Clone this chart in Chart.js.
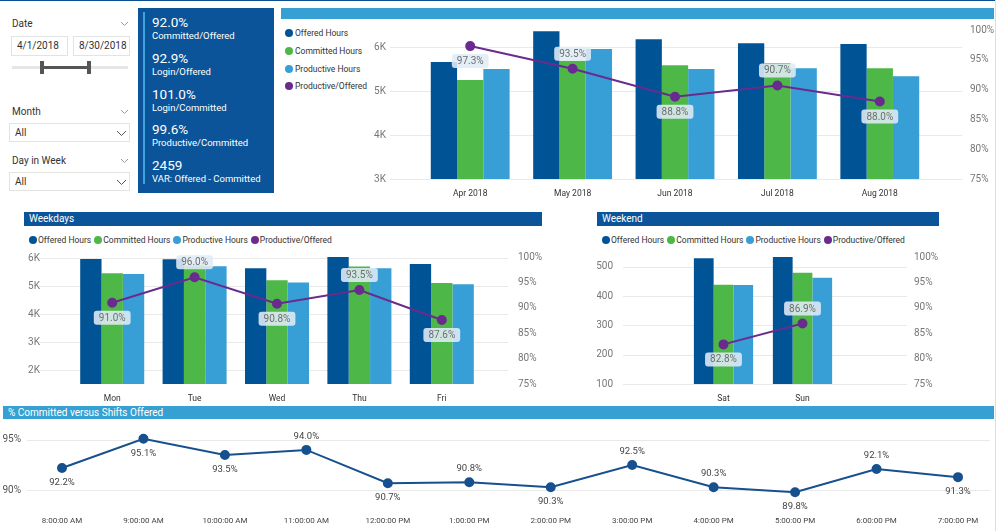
<!DOCTYPE html>
<html><head><meta charset="utf-8">
<script src="https://cdn.jsdelivr.net/npm/chart.js@4"></script>
<style>
body{margin:0;width:999px;height:531px;overflow:hidden;background:#fff;font-family:"Segoe UI",Roboto,"Open Sans",sans-serif;position:relative;color:#333}
.abs{position:absolute}
.lbl{font-size:10px;color:#333;line-height:12px}
.box{border:1px solid #e3e3e3;background:#fff;box-sizing:border-box;font-size:10px;color:#333;line-height:18px}
.hdr{color:#fff;font-size:10px;line-height:14px;padding-left:5px;box-sizing:border-box}
.leg{display:flex;align-items:center;font-size:8.5px;color:#333;white-space:nowrap}
.leg .it{display:flex;align-items:center;margin-right:3px}
.leg .dot{width:8px;height:8px;border-radius:50%;margin-right:1px}
.vleg .it{position:absolute;display:flex;align-items:center;font-size:8.5px;white-space:nowrap;color:#333}
.vleg .dot{width:8px;height:8px;border-radius:50%;margin-right:2px}
.kv{position:absolute;left:152px;color:#fff;font-size:13.5px;line-height:16px}
.kl{position:absolute;left:152px;color:#fff;font-size:9.5px;line-height:12px}
</style></head>
<body>
<!-- frame -->
<div class="abs" style="left:0;top:0;width:995px;height:1px;background:#0b4f8f"></div>
<div class="abs" style="left:995px;top:0;width:1px;height:531px;background:#ddd"></div>

<!-- slicers -->
<div class="abs lbl" style="left:12px;top:18px">Date</div>
<svg class="abs" style="left:120px;top:21px" width="9" height="6"><polyline points="1,1 4.5,4.5 8,1" fill="none" stroke="#999" stroke-width="1"/></svg>
<div class="abs box" style="left:11px;top:36px;width:57px;height:20px;padding-left:5px">4/1/2018</div>
<div class="abs box" style="left:73px;top:36px;width:57px;height:20px;padding-left:5px">8/30/2018</div>
<div class="abs" style="left:12px;top:66px;width:116px;height:3px;background:#e6e6e6"></div>
<div class="abs" style="left:42px;top:66px;width:47px;height:3px;background:#555"></div>
<div class="abs" style="left:40px;top:61px;width:4px;height:13px;background:#555"></div>
<div class="abs" style="left:87px;top:61px;width:4px;height:13px;background:#555"></div>

<div class="abs lbl" style="left:12px;top:106px">Month</div>
<svg class="abs" style="left:120px;top:109px" width="9" height="6"><polyline points="1,1 4.5,4.5 8,1" fill="none" stroke="#999" stroke-width="1"/></svg>
<div class="abs box" style="left:9px;top:123px;width:121px;height:19px;padding-left:5px">All</div>
<svg class="abs" style="left:116px;top:130px" width="11" height="7"><polyline points="1,1 5.5,5.5 10,1" fill="none" stroke="#555" stroke-width="1"/></svg>

<div class="abs lbl" style="left:12px;top:155px">Day in Week</div>
<svg class="abs" style="left:120px;top:158px" width="9" height="6"><polyline points="1,1 4.5,4.5 8,1" fill="none" stroke="#999" stroke-width="1"/></svg>
<div class="abs box" style="left:9px;top:172px;width:121px;height:19px;padding-left:5px">All</div>
<svg class="abs" style="left:116px;top:179px" width="11" height="7"><polyline points="1,1 5.5,5.5 10,1" fill="none" stroke="#555" stroke-width="1"/></svg>

<!-- KPI card -->
<div id="kpi" class="abs" style="left:138px;top:8px;width:136px;height:185px;background:#0b5499"></div>
<div class="abs" style="left:143px;top:12px;width:2px;height:172px;background:#3ea3dc"></div>
<div id="kpiText"></div>

<!-- top chart -->
<div class="abs" style="left:281px;top:8px;width:713px;height:11px;background:#36a0d3"></div>
<div id="topLegend" class="vleg"></div>
<canvas id="cTop" class="abs" style="left:370px;top:22px" width="625" height="180"></canvas>

<!-- weekdays -->
<div class="abs hdr" style="left:24px;top:212px;width:518px;height:14px;background:#0b5499">Weekdays</div>
<div id="wdLegend" class="abs leg" style="left:29px;top:234px;height:12px"></div>
<canvas id="cWd" class="abs" style="left:24px;top:248px" width="520" height="155"></canvas>

<!-- weekend -->
<div class="abs hdr" style="left:597px;top:212px;width:342px;height:14px;background:#0b5499">Weekend</div>
<div id="weLegend" class="abs leg" style="left:602px;top:234px;height:12px"></div>
<canvas id="cWe" class="abs" style="left:597px;top:248px" width="350" height="155"></canvas>

<!-- hourly -->
<div class="abs hdr" style="left:3px;top:406px;width:991px;height:13px;line-height:13px;background:#36a0d3">% Committed versus Shifts Offered</div>
<canvas id="cHr" class="abs" style="left:0px;top:420px" width="999" height="111"></canvas>

<script>
// ---------- data ----------
const seriesNames = ['Offered Hours', 'Committed Hours', 'Productive Hours', 'Productive/Offered'];

const kpiValues = ['92.0%', '92.9%', '101.0%', '99.6%', '2459'];
const kpiLabels = ['Committed/Offered', 'Login/Offered', 'Login/Committed', 'Productive/Committed', 'VAR: Offered - Committed'];

const months = ['Apr 2018', 'May 2018', 'Jun 2018', 'Jul 2018', 'Aug 2018'];
const monthOffered = [5660, 6360, 6180, 6090, 6070];
const monthCommitted = [5250, 5690, 5590, 5640, 5520];
const monthProductive = [5500, 5960, 5500, 5520, 5340];
const monthRatio = [97.3, 93.5, 88.8, 90.7, 88.0];
const monthHourTicks = [3000, 4000, 5000, 6000];

const weekdays = ['Mon', 'Tue', 'Wed', 'Thu', 'Fri'];
const wdOffered = [5970, 5960, 5640, 6040, 5790];
const wdCommitted = [5460, 5740, 5210, 5700, 5110];
const wdProductive = [5430, 5710, 5130, 5640, 5070];
const wdRatio = [91.0, 96.0, 90.8, 93.5, 87.6];
const wdHourTicks = [2000, 3000, 4000, 5000, 6000];

const weekend = ['Sat', 'Sun'];
const weOffered = [530, 535];
const weCommitted = [439, 480];
const weProductive = [438, 463];
const weRatio = [82.8, 86.9];
const weHourTicks = [100, 200, 300, 400, 500];

const ratioTicks = [75, 80, 85, 90, 95, 100];

const hours = ['8:00:00 AM', '9:00:00 AM', '10:00:00 AM', '11:00:00 AM', '12:00:00 PM', '1:00:00 PM',
               '2:00:00 PM', '3:00:00 PM', '4:00:00 PM', '5:00:00 PM', '6:00:00 PM', '7:00:00 PM'];
const hourCommitPct = [92.2, 95.1, 93.5, 94.0, 90.7, 90.8, 90.3, 92.5, 90.3, 89.8, 92.1, 91.3];
const hourPctTicks = [90, 95];

// label placement (style, not data)
const monthLabelPos = ['below', 'above', 'below', 'above', 'below'];
const wdLabelPos = ['below', 'above', 'below', 'above', 'below'];
const weLabelPos = ['below', 'above'];
const hourLabelPos = ['below', 'below', 'below', 'above', 'below', 'above', 'below', 'above', 'above', 'below', 'above', 'below'];

// ---------- style ----------
const DARK = '#005496', GREEN = '#4db748', LIGHT = '#379fd5', PURPLE = '#6a2a8e', HLINE = '#17508e';
const seriesColors = [DARK, GREEN, LIGHT, PURPLE];

// KPI text
(function () {
  const host = document.getElementById('kpiText');
  let html = '';
  kpiValues.forEach((v, i) => {
    const c = 22 + i * 35.8;
    html += `<div class="kv" style="top:${(c - 8).toFixed(1)}px">${v}</div>`;
    html += `<div class="kl" style="top:${(c + 14 - 6).toFixed(1)}px">${kpiLabels[i]}</div>`;
  });
  host.innerHTML = html;
})();

// legends
(function () {
  const top = document.getElementById('topLegend');
  const ys = [33, 50.5, 68.5, 86];
  top.innerHTML = seriesNames.map((n, i) =>
    `<div class="it" style="left:285px;top:${ys[i] - 6}px;height:12px"><span class="dot" style="background:${seriesColors[i]}"></span>${n}</div>`).join('');
  const row = seriesNames.map((n, i) =>
    `<div class="it"><span class="dot" style="background:${seriesColors[i]}"></span>${n}</div>`).join('');
  document.getElementById('wdLegend').innerHTML = row;
  document.getElementById('weLegend').innerHTML = row;
})();

Chart.defaults.font.family = "'Segoe UI', Roboto, 'Open Sans', sans-serif";

const extGrid = {
  id: 'extGrid',
  beforeDatasetsDraw(chart, args, opts) {
    const s = chart.scales[opts.scaleId || 'y'];
    const a = chart.chartArea, ctx = chart.ctx;
    ctx.save();
    ctx.strokeStyle = opts.color || '#e9e9e9';
    ctx.lineWidth = 1;
    s.ticks.forEach(t => {
      const y = Math.round(s.getPixelForValue(t.value)) + 0.5;
      ctx.beginPath();
      ctx.moveTo(a.left - (opts.left || 0), y);
      ctx.lineTo(a.right + (opts.right || 0), y);
      ctx.stroke();
    });
    ctx.restore();
  }
};

const valueLabels = {
  id: 'valueLabels',
  afterDatasetsDraw(chart, args, opts) {
    const di = opts.datasetIndex;
    const ds = chart.data.datasets[di];
    const meta = chart.getDatasetMeta(di);
    const ctx = chart.ctx;
    ctx.save();
    ctx.font = `${opts.fontSize}px 'Segoe UI', Roboto, 'Open Sans', sans-serif`;
    ctx.textAlign = 'center';
    ctx.textBaseline = 'middle';
    meta.data.forEach((el, i) => {
      const txt = ds.data[i].toFixed(1) + '%';
      const dir = ds.labelPositions[i] === 'above' ? -1 : 1;
      const x = el.x, y = el.y + dir * opts.offset;
      if (opts.box) {
        const w = ctx.measureText(txt).width + 2 * opts.padX, h = opts.boxH;
        ctx.fillStyle = 'rgba(224,236,246,0.88)';
        ctx.beginPath();
        if (ctx.roundRect) ctx.roundRect(x - w / 2, y - h / 2, w, h, 3); else ctx.rect(x - w / 2, y - h / 2, w, h);
        ctx.fill();
      }
      ctx.fillStyle = opts.color;
      ctx.fillText(txt, x, y + 0.5);
    });
    ctx.restore();
  }
};

// fixed tick sets and exact axis sizes
function setTicks(vals) { return s => { s.ticks = vals.map(v => ({ value: v })); }; }
function fixV(w) { return s => { s.width = w; s.paddingTop = 0; s.paddingBottom = 0; }; }
function fixH(h) { return s => { s.height = h; s.paddingLeft = 0; s.paddingRight = 0; }; }

function combo(id, labels, off, com, prod, ratio, pos, hourTicks, c) {
  new Chart(document.getElementById(id), {
    type: 'bar',
    data: {
      labels,
      datasets: [
        { label: seriesNames[0], data: off, backgroundColor: DARK, yAxisID: 'y', order: 1 },
        { label: seriesNames[1], data: com, backgroundColor: GREEN, yAxisID: 'y', order: 1 },
        { label: seriesNames[2], data: prod, backgroundColor: LIGHT, yAxisID: 'y', order: 1 },
        { type: 'line', label: seriesNames[3], data: ratio, yAxisID: 'y1', order: 0,
          borderColor: PURPLE, backgroundColor: PURPLE, borderWidth: 2,
          pointRadius: 4, pointHoverRadius: 4, labelPositions: pos }
      ]
    },
    options: {
      responsive: false, animation: false, devicePixelRatio: 1,
      layout: { padding: { top: c.top, left: 0, right: 0, bottom: 0 } },
      datasets: { bar: { categoryPercentage: c.cat, barPercentage: 1, borderWidth: 0 } },
      plugins: {
        legend: { display: false }, tooltip: { enabled: false },
        extGrid: { left: c.gl, right: c.gr },
        valueLabels: { datasetIndex: 3, offset: 15, box: true, padX: 5, boxH: 14, fontSize: 10, color: '#6e6e6e' }
      },
      scales: {
        x: {
          grid: { display: false, drawTicks: false }, border: { display: false },
          ticks: { padding: c.xp, color: '#333', font: { size: 8.5 }, maxRotation: 0 },
          afterFit: fixH(c.xH)
        },
        y: {
          position: 'left', min: c.min, max: c.max,
          grid: { display: false, drawTicks: false }, border: { display: false },
          ticks: { padding: c.lp, color: '#777', font: { size: 10 }, autoSkip: false, callback: c.fmt },
          afterBuildTicks: setTicks(hourTicks),
          afterFit: fixV(c.lw)
        },
        y1: {
          position: 'right', min: 75, max: 100,
          grid: { display: false, drawTicks: false }, border: { display: false },
          ticks: { padding: c.rp, color: '#777', font: { size: 10 }, autoSkip: false, callback: v => v + '%' },
          afterBuildTicks: setTicks(ratioTicks),
          afterFit: fixV(c.rw)
        }
      }
    },
    plugins: [extGrid, valueLabels]
  });
}

const kFmt = v => (v / 1000) + 'K';

combo('cTop', months, monthOffered, monthCommitted, monthProductive, monthRatio, monthLabelPos, monthHourTicks,
  { top: 8, cat: 0.77, gl: 29, gr: 31, xp: 10, xH: 23, min: 3000, max: 6390, fmt: kFmt, lp: 33, lw: 49, rp: 39, rw: 64 });

combo('cWd', weekdays, wdOffered, wdCommitted, wdProductive, wdRatio, wdLabelPos, wdHourTicks,
  { top: 9, cat: 0.777, gl: 32, gr: 25, xp: 10, xH: 19, min: 1500, max: 6040, fmt: kFmt, lp: 31, lw: 47, rp: 35, rw: 61 });

combo('cWe', weekend, weOffered, weCommitted, weProductive, weRatio, weLabelPos, weHourTicks,
  { top: 9, cat: 0.75, gl: 61, gr: 65, xp: 10, xH: 19, min: 100, max: 534, fmt: v => v, lp: 71, lw: 87, rp: 72, rw: 105 });

new Chart(document.getElementById('cHr'), {
  type: 'line',
  data: {
    labels: hours,
    datasets: [{ data: hourCommitPct, borderColor: HLINE, backgroundColor: HLINE, borderWidth: 2,
      pointRadius: 4, pointHoverRadius: 4, labelPositions: hourLabelPos }]
  },
  options: {
    responsive: false, animation: false, devicePixelRatio: 1,
    layout: { padding: { top: 5, left: 0, right: 41, bottom: 0 } },
    plugins: {
      legend: { display: false }, tooltip: { enabled: false },
      extGrid: { left: 35, right: 32 },
      valueLabels: { datasetIndex: 0, offset: 14, box: false, fontSize: 9.5, color: '#444' }
    },
    scales: {
      x: {
        offset: false,
        grid: { display: false, drawTicks: false }, border: { display: false },
        ticks: { padding: 8, color: '#444', font: { size: 8 }, maxRotation: 0, autoSkip: false },
        afterFit: fixH(23)
      },
      y: {
        min: 88.24, max: 96.37,
        grid: { display: false, drawTicks: false }, border: { display: false },
        ticks: { padding: 41, color: '#555', font: { size: 10 }, autoSkip: false, callback: v => v + '%' },
        afterBuildTicks: setTicks(hourPctTicks),
        afterFit: fixV(62)
      }
    }
  },
  plugins: [extGrid, valueLabels]
});
</script>
</body></html>
